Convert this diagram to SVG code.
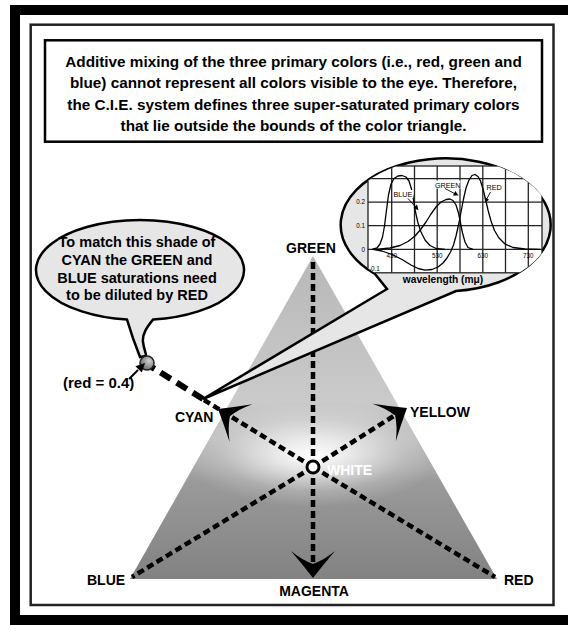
<svg xmlns="http://www.w3.org/2000/svg" xmlns:xlink="http://www.w3.org/1999/xlink" width="568" height="625" viewBox="0 0 568 625">
<style>
.t{font-family:"Liberation Sans",Arial,Helvetica,sans-serif;font-weight:bold;fill:#000}
.lbl{font-size:14px}
.main{font-size:15.3px}
.call{font-size:14.5px}
.ct{font-family:"Liberation Sans",Arial,sans-serif;font-size:7.2px;fill:#000}
.tick{font-family:"Liberation Sans",Arial,sans-serif;font-size:6.3px;fill:#000}
.dash{fill:none;stroke:#000;stroke-width:4.5;stroke-dasharray:7 4}
.grid{stroke:#222;stroke-width:1.3;fill:none}
.curve{fill:none;stroke:#000;stroke-width:1.3;stroke-linejoin:round}
.bub{fill:#e6e6e6;stroke:#000;stroke-width:2.5}
</style>
<defs>
<linearGradient id="tg" x1="0" y1="256" x2="0" y2="579" gradientUnits="userSpaceOnUse">
<stop offset="0" stop-color="#b8b8b8"/>
<stop offset="0.45" stop-color="#cacaca"/>
<stop offset="0.56" stop-color="#bdbdbd"/>
<stop offset="0.7" stop-color="#9a9a9a"/>
<stop offset="1" stop-color="#828282"/>
</linearGradient>
<radialGradient id="hl" cx="313" cy="455" r="130" gradientUnits="userSpaceOnUse" gradientTransform="translate(313 455) scale(1 0.4) translate(-313 -455)">
<stop offset="0" stop-color="#fff" stop-opacity="1"/>
<stop offset="0.3" stop-color="#fff" stop-opacity="0.7"/>
<stop offset="0.7" stop-color="#fff" stop-opacity="0.2"/>
<stop offset="1" stop-color="#fff" stop-opacity="0"/>
</radialGradient>
<radialGradient id="dot" cx="0.65" cy="0.35" r="0.7">
<stop offset="0" stop-color="#d0d0d0"/>
<stop offset="1" stop-color="#6a6a6a"/>
</radialGradient>
<clipPath id="cclip"><ellipse cx="447" cy="224.5" rx="105" ry="66.5"/></clipPath>
<path id="dart" d="M0,0 Q-13,-10 -27,-22 Q-18,-11 -14,0 Q-18,11 -27,22 Q-13,10 0,0 Z"/>
</defs>

<g id="frame">
<rect x="0" y="0" width="568" height="625" fill="#fff"/>
<rect x="10" y="5" width="558" height="620" fill="#000"/>
<rect x="20" y="15" width="548" height="600" fill="#fff"/>
<rect x="30.7" y="24.7" width="522.8" height="580.3" fill="none" stroke="#222" stroke-width="2.5"/>
</g>

<g id="text-box">
<rect x="45" y="40.3" width="497" height="101.4" fill="#fff" stroke="#000" stroke-width="2.5"/>
<text class="t main" text-anchor="middle" x="293.5" y="66.5">Additive mixing of the three primary colors (i.e., red, green and</text>
<text class="t main" text-anchor="middle" x="293.5" y="88">blue) cannot represent all colors visible to the eye.  Therefore,</text>
<text class="t main" text-anchor="middle" x="293.5" y="109.5">the C.I.E. system defines three super-saturated primary colors</text>
<text class="t main" text-anchor="middle" x="293.5" y="131">that lie outside the bounds of the color triangle.</text>
</g>

<g id="triangle">
<polygon points="313,256 130,579 497,579" fill="url(#tg)"/>
<polygon points="313,256 130,579 497,579" fill="url(#hl)"/>
</g>

<g id="connectors">
<line class="dash" x1="313" y1="467" x2="313" y2="258"/>
<line class="dash" x1="313" y1="467" x2="132" y2="577"/>
<line class="dash" x1="313" y1="467" x2="495" y2="577"/>
<line class="dash" x1="313" y1="467" x2="313" y2="566"/>
<line class="dash" x1="313" y1="467" x2="204" y2="400"/>
<line class="dash" x1="313" y1="467" x2="400" y2="412"/>
<line x1="203" y1="399" x2="150" y2="366" stroke="#000" stroke-width="6" stroke-dasharray="12 7" fill="none"/>
<use xlink:href="#dart" transform="translate(313 578) rotate(90)"/>
<use xlink:href="#dart" transform="translate(218 409) rotate(-148.5)"/>
<use xlink:href="#dart" transform="translate(407 408) rotate(-32.1)"/>
<line x1="129" y1="379" x2="138" y2="370" stroke="#000" stroke-width="2"/>
</g>

<g id="white-point">
<circle cx="313" cy="467" r="6" fill="#fff" stroke="#000" stroke-width="3"/>
<text class="t lbl" x="327" y="475" style="fill:#fff">WHITE</text>
</g>

<g id="chart-bubble">
<path class="bub" d="M456,291 A105,66.5 0 1 0 375,274 L387,289 L203,399 Z"/>
<g clip-path="url(#cclip)">
<rect x="368" y="166" width="174" height="106.8" fill="#fff" stroke="#222" stroke-width="1.3"/>
<path class="grid" d="M391.7,166V272.8M414.5,166V272.8M437.2,166V272.8M460,166V272.8M482.8,166V272.8M505.5,166V272.8M528.3,166V272.8M368,178.6H542M368,202.2H542M368,225.7H542M368,249.3H542"/>
<polyline class="curve" points="372,249.3 377,248 380,244 382.5,237 384.5,226 386.5,210 388.5,195 391,184 394,178.5 398,176 402,175.5 406,177 409,181 411.5,189 413.5,200 415.5,212 418,223 421,232 425,240 430,245.5 436,248.5 445,249.3"/>
<polyline class="curve" points="376,249.3 390,248 400,245.5 408,241.5 415,236 421,229 426,222 431,214 436,207 441,202 446,199.5 450,199 453,200.5 456,205 458.5,213 460.5,223 462.5,233 465,242 468,247.5 473,249.3"/>
<polyline class="curve" points="373,249.3 382,251 392,254.5 402,259.5 411,265 418,268.5 425,270.2 432,269.5 438,267 443,263 447,258 450.5,252 453.5,245 456,236 458.5,225 461,212 463.5,199 466,188 469,180 472,175.5 475,174.5 478,176.5 480.5,181 483,189 485.5,199 488,210 491,221 494.5,230.5 499,238 505,244 513,247.5 525,249 540,249.3"/>
<text class="tick" text-anchor="end" x="365" y="180.8">0.3</text>
<text class="tick" text-anchor="end" x="365" y="204.4">0.2</text>
<text class="tick" text-anchor="end" x="365" y="227.9">0.1</text>
<text class="tick" text-anchor="end" x="365" y="251.5">0</text>
<text class="tick" x="369" y="270.5">-0.1</text>
<text class="tick" text-anchor="middle" x="391.7" y="257.5">430</text>
<text class="tick" text-anchor="middle" x="437.2" y="257.5">530</text>
<text class="tick" text-anchor="middle" x="482.8" y="257.5">630</text>
<text class="tick" text-anchor="middle" x="528.3" y="257.5">730</text>
<rect x="393" y="190" width="20" height="8" fill="#fff"/>
<text class="ct" x="393.5" y="197.2">BLUE</text>
<rect x="434.5" y="180.5" width="26" height="8" fill="#fff"/>
<text class="ct" x="435" y="187.5">GREEN</text>
<text class="ct" x="486.5" y="189.5">RED</text>
<g stroke="#000" stroke-width="0.9">
<line x1="408" y1="198.5" x2="416" y2="207.5"/>
<line x1="445" y1="188.5" x2="455.5" y2="194"/>
<line x1="490.5" y1="192" x2="486.5" y2="199.5"/>
</g>
<polygon points="418.5,210.3 413.3,207.9 417.1,204.4" fill="#000"/>
<polygon points="458.5,195.5 453,195.6 455.4,191" fill="#000"/>
<polygon points="485,202.5 484.6,197.3 489.1,199.7" fill="#000"/>
<text class="t" style="font-size:10.2px" text-anchor="middle" x="443" y="282.5">wavelength (mμ)</text>
</g>
</g>

<g id="cyan-callout">
<path class="bub" d="M127,319.6 A104,50 0 1 1 153,319.6 C147,327 142,334 143,342 S146,352 146,356 L140,357 C136,347 131,333 127,319.6 Z"/>
<text class="t call" text-anchor="middle" x="137" y="247">To match this shade of</text>
<text class="t call" text-anchor="middle" x="137" y="265">CYAN the GREEN and</text>
<text class="t call" text-anchor="middle" x="137" y="283">BLUE saturations need</text>
<text class="t call" text-anchor="middle" x="137" y="300">to be diluted by RED</text>
<circle cx="147" cy="363" r="7" fill="url(#dot)" stroke="#222" stroke-width="1.5"/>
<polygon points="145,363 141.8,372.6 135.4,366.2" fill="#000"/>
</g>

<g id="red-point-label"><text class="t" style="font-size:15px" x="63" y="388">(red = 0.4)</text></g>
<g id="node-green"><text class="t lbl" text-anchor="middle" x="311" y="253">GREEN</text></g>
<g id="node-cyan"><text class="t lbl" x="175" y="422">CYAN</text></g>
<g id="node-yellow"><text class="t lbl" x="410" y="417">YELLOW</text></g>
<g id="node-blue"><text class="t lbl" x="87" y="585">BLUE</text></g>
<g id="node-red"><text class="t lbl" x="504" y="585">RED</text></g>
<g id="node-magenta"><text class="t lbl" text-anchor="middle" x="314" y="596">MAGENTA</text></g>
</svg>
